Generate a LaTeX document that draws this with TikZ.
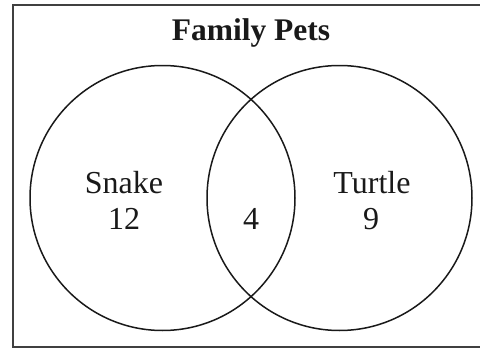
\documentclass[tikz,border=0pt]{standalone}
\usepackage{fontspec}
\setmainfont{Liberation Serif}
\begin{document}
\begin{tikzpicture}[
		x=1pt, y=-1pt,
		set/.style={draw=black!90, circle, line width=1.5pt, minimum size=265pt, inner sep=0pt},
		lbl/.style={anchor=base, font=\fontsize{32}{36}\selectfont, text=black!90, inner sep=0pt},
		frame/.style={draw=black!75, line width=1.5pt}
		]
		
		\useasboundingbox (0,0) rectangle (480,348);
		\clip (0,0) rectangle (480,348);
		\draw[frame] (13,5) rectangle (495,346.8);
		
		\node[lbl, font=\fontsize{31.5}{36}\selectfont\bfseries] (title) at (251,40) {Family Pets};
		
		% the two sets
		\node[set] (snake) at (162.5,198) {};
		\node[set] (turtle) at (339.5,198) {};
		
		\node[lbl] (snakename) at (124,193) {Snake};
		\node[lbl] (snakenum) at (124,229) {12};
		\node[lbl] (both) at (251,229) {4};
		\node[lbl] (turtlename) at (372,193) {Turtle};
		\node[lbl] (turtlenum) at (371,229) {9};
	\end{tikzpicture}
\end{document}
